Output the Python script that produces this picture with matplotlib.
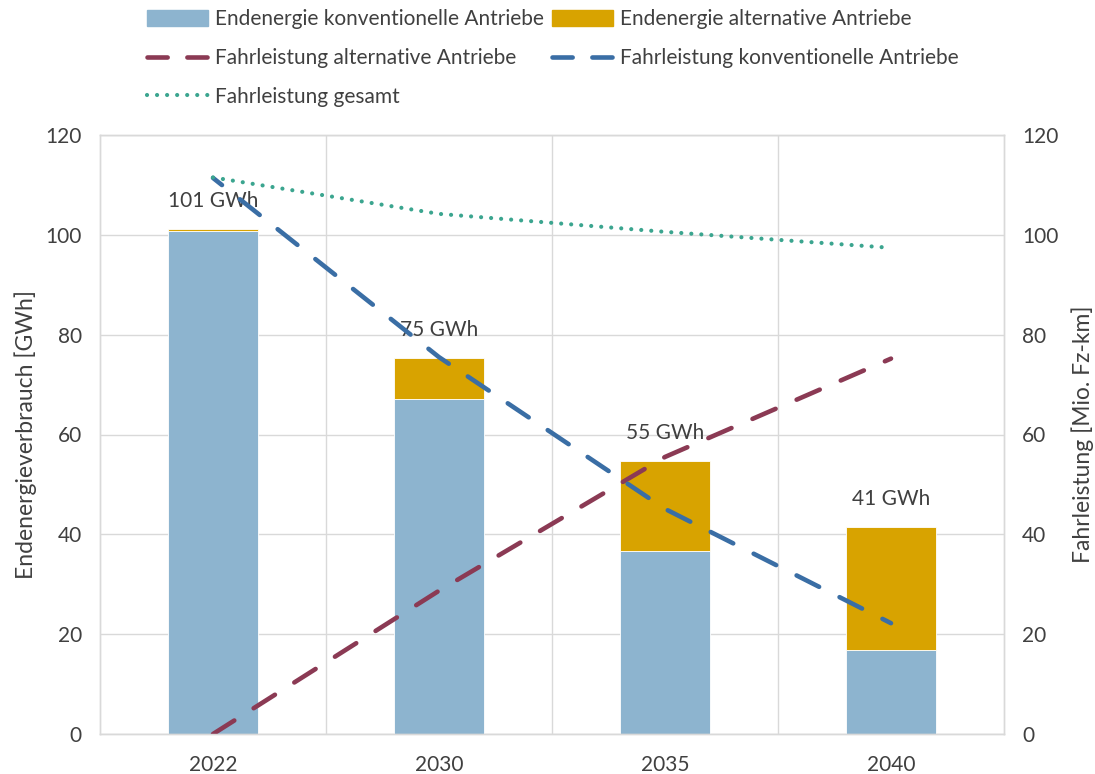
import matplotlib.pyplot as plt
from matplotlib.patches import Patch
from matplotlib.lines import Line2D

plt.rcParams['font.family'] = ['Lato', 'DejaVu Sans']

# Daten
jahre = ['2022', '2030', '2035', '2040']
endenergie_konv = [100.8, 67.2, 36.6, 16.8]
endenergie_alt = [0.4, 8.1, 18.1, 24.7]
summen_label = ['101 GWh', '75 GWh', '55 GWh', '41 GWh']
fahrl_alt = [0.0, 28.7, 55.5, 75.2]
fahrl_konv = [111.4, 75.5, 45.1, 22.2]
fahrl_gesamt = [111.5, 104.2, 100.6, 97.4]

c_konv = '#8db4cf'
c_alt = '#d8a300'
c_rot = '#8b3a54'
c_blau = '#3a6ea5'
c_gruen = '#3ba58f'
c_text = '#404040'
c_grid = '#d9d9d9'
fs = 15

fig = plt.figure(figsize=(10.95, 7.74), dpi=100)
ax = fig.add_axes([100 / 1095, 40 / 774, 904 / 1095, 599 / 774])
ax2 = ax.twinx()

x = list(range(len(jahre)))
ax.bar(x, endenergie_konv, width=0.4, color=c_konv, edgecolor='white', linewidth=0.6, zorder=2)
ax.bar(x, endenergie_alt, width=0.4, bottom=endenergie_konv, color=c_alt,
       edgecolor='white', linewidth=0.6, zorder=2)

for i, lab in enumerate(summen_label):
    top = endenergie_konv[i] + endenergie_alt[i]
    ax.annotate(lab, (x[i], top), xytext=(0, 20), textcoords='offset points',
                ha='center', va='center', fontsize=fs, color=c_text, zorder=3)

lw = 3.3
ax2.plot(x, fahrl_alt, color=c_rot, lw=lw, linestyle=(0, (5.5, 5)), dash_capstyle='round')
ax2.plot(x, fahrl_konv, color=c_blau, lw=lw, linestyle=(3, (5.5, 5)), dash_capstyle='round')
ax2.plot(x, fahrl_gesamt, color=c_gruen, lw=3, linestyle=(0, (0.01, 2.4)), dash_capstyle='round')

for a in (ax, ax2):
    a.set_ylim(0, 120)
    a.set_yticks(range(0, 121, 20))
    a.tick_params(length=0, labelsize=fs, labelcolor=c_text)
    for s in a.spines.values():
        s.set_color(c_grid)
        s.set_linewidth(1)

ax.set_xlim(-0.5, 3.5)
ax.set_xticks(x)
ax.set_xticklabels(jahre)
ax.set_xticks([0.5, 1.5, 2.5], minor=True)
ax.tick_params(axis='x', which='both', length=0, pad=15)
ax.tick_params(axis='y', pad=13)
ax2.tick_params(axis='y', pad=13)
ax.grid(axis='y', color=c_grid, lw=1, zorder=0)
ax.grid(axis='x', which='minor', color=c_grid, lw=1, zorder=0)
ax.set_axisbelow(True)

ax.set_ylabel('Endenergieverbrauch [GWh]', fontsize=16.5, color=c_text, labelpad=6)
ax2.set_ylabel('Fahrleistung [Mio. Fz-km]', fontsize=16.5, color=c_text, labelpad=9)

handles = [
    Patch(color=c_konv, label='Endenergie konventionelle Antriebe'),
    Line2D([], [], color=c_rot, lw=lw, linestyle=(0, (4.4, 4.3)), dash_capstyle='round',
           label='Fahrleistung alternative Antriebe'),
    Line2D([], [], color=c_gruen, lw=3, linestyle=(0, (0.01, 2.4)), dash_capstyle='round',
           label='Fahrleistung gesamt'),
    Patch(color=c_alt, label='Endenergie alternative Antriebe'),
    Line2D([], [], color=c_blau, lw=lw, linestyle=(0, (4.4, 4.3)), dash_capstyle='round',
           label='Fahrleistung konventionelle Antriebe'),
]
leg = fig.legend(handles=handles, ncol=2, loc='upper center', bbox_to_anchor=(0.505, 1.0),
                 frameon=False, fontsize=fs, handlelength=2.9, handleheight=0.8,
                 handletextpad=0.35, columnspacing=0.4, labelspacing=0.9, borderaxespad=0.05)
for t in leg.get_texts():
    t.set_color(c_text)

fig.savefig('out.png', dpi=100)
